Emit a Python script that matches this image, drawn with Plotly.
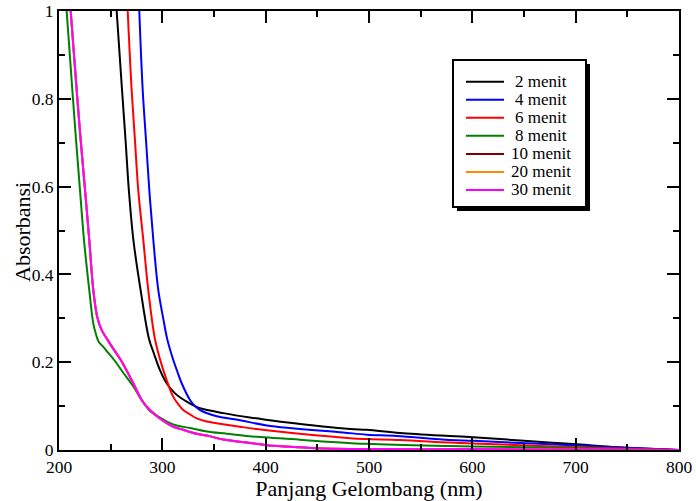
import plotly.graph_objects as go

# Absorbance spectra recorded after different irradiation times
wl_2 = [255.8, 261.0, 264.4, 267.6, 272.0, 279.0, 287.0, 291.5, 297.7, 304.2, 312.3, 323.6,
        331.6, 336.5, 359.0, 384.8, 404.0, 417.0, 481.6, 498.0, 530.0, 578.0, 601.0, 650.0,
        701.0, 749.0, 800.0]
abs_2 = [1.0, 0.82, 0.706, 0.592, 0.478, 0.364, 0.254, 0.222, 0.182, 0.152, 0.129, 0.110,
         0.100, 0.095, 0.084, 0.074, 0.068, 0.064, 0.048, 0.046, 0.039, 0.032, 0.029, 0.021,
         0.013, 0.005, 0.0]

wl_4 = [277.7, 281.0, 284.2, 287.4, 291.3, 296.1, 301.0, 304.8, 310.6, 314.3, 318.7, 326.8,
        331.6, 336.5, 352.6, 375.2, 401.0, 475.0, 497.8, 526.7, 578.0, 601.0, 701.0, 800.0]
abs_4 = [1.0, 0.82, 0.706, 0.592, 0.478, 0.364, 0.298, 0.252, 0.205, 0.180, 0.152, 0.114,
         0.100, 0.091, 0.077, 0.068, 0.056, 0.040, 0.035, 0.032, 0.023, 0.021, 0.010, 0.0]

wl_6 = [266.5, 270.3, 273.5, 276.7, 281.6, 286.4, 292.6, 297.7, 304.2, 310.6, 315.5, 320.3,
        326.8, 333.3, 342.9, 352.6, 375.0, 401.0, 481.6, 498.0, 530.0, 578.0, 601.0, 701.0,
        800.0]
abs_6 = [1.0, 0.82, 0.706, 0.592, 0.478, 0.364, 0.256, 0.207, 0.159, 0.121, 0.104, 0.091,
         0.081, 0.072, 0.065, 0.061, 0.053, 0.045, 0.027, 0.025, 0.023, 0.017, 0.015, 0.006,
         0.0]

wl_8 = [207.4, 212.9, 216.5, 220.3, 224.2, 229.3, 233.2, 236.0, 238.5, 242.9, 246.0, 253.4,
        262.2, 271.0, 280.0, 288.0, 297.7, 305.8, 313.9, 326.8, 343.0, 362.3, 391.3, 417.0,
        497.8, 578.0, 601.0, 701.0, 800.0]
abs_8 = [1.0, 0.82, 0.706, 0.592, 0.478, 0.364, 0.288, 0.262, 0.246, 0.235, 0.226, 0.205,
         0.176, 0.148, 0.114, 0.089, 0.074, 0.063, 0.056, 0.050, 0.042, 0.037, 0.030, 0.026,
         0.014, 0.009, 0.008, 0.004, 0.0]

wl_10 = [211.3, 217.1, 221.0, 225.2, 229.3, 233.2, 237.0, 241.3, 246.2, 251.0, 259.8, 266.3,
         272.7, 280.0, 288.0, 300.9, 310.6, 320.3, 333.3, 343.0, 359.0, 385.0, 401.0, 433.0,
         449.0, 497.8, 600.0, 700.0, 800.0]
abs_10 = [1.0, 0.82, 0.706, 0.592, 0.478, 0.364, 0.303, 0.273, 0.254, 0.236, 0.205, 0.177,
          0.148, 0.114, 0.091, 0.066, 0.053, 0.046, 0.037, 0.033, 0.024, 0.016, 0.011, 0.006,
          0.004, 0.002, 0.002, 0.001, 0.0]

wl_20 = [211.3, 217.1, 221.0, 225.2, 229.3, 233.2, 237.0, 241.3, 246.2, 251.0, 259.8, 266.3,
         272.7, 280.0, 288.0, 300.9, 310.6, 320.3, 333.3, 343.0, 359.0, 385.0, 401.0, 433.0,
         449.0, 497.8, 600.0, 700.0, 800.0]
abs_20 = [1.0, 0.82, 0.706, 0.592, 0.478, 0.364, 0.303, 0.273, 0.254, 0.236, 0.205, 0.177,
          0.148, 0.114, 0.091, 0.066, 0.053, 0.046, 0.037, 0.033, 0.024, 0.016, 0.011, 0.006,
          0.004, 0.002, 0.002, 0.001, 0.0]

wl_30 = [211.3, 217.1, 221.0, 225.2, 229.3, 233.2, 237.0, 241.3, 246.2, 251.0, 259.8, 266.3,
         272.7, 280.0, 288.0, 300.9, 310.6, 320.3, 333.3, 343.0, 359.0, 385.0, 401.0, 433.0,
         449.0, 497.8, 600.0, 700.0, 800.0]
abs_30 = [1.0, 0.82, 0.706, 0.592, 0.478, 0.364, 0.303, 0.273, 0.254, 0.236, 0.205, 0.177,
          0.148, 0.114, 0.091, 0.066, 0.053, 0.046, 0.037, 0.033, 0.024, 0.016, 0.011, 0.006,
          0.004, 0.002, 0.002, 0.001, 0.0]

series_names = ["2 menit", "4 menit", "6 menit", "8 menit", "10 menit", "20 menit", "30 menit"]
series_colors = ["#000000", "#0000ff", "#ff0000", "#008000", "#800000", "#ff8c00", "#ff00ff"]
series_x = [wl_2, wl_4, wl_6, wl_8, wl_10, wl_20, wl_30]
series_y = [abs_2, abs_4, abs_6, abs_8, abs_10, abs_20, abs_30]

# Axis ranges and tick labels
x_range = [200, 800]
y_range = [0, 1]
x_major = [200, 300, 400, 500, 600, 700, 800]
y_major = [0, 0.2, 0.4, 0.6, 0.8, 1.0]
x_labels = ["200", "300", "400", "500", "600", "700", "800"]
y_labels = ["0", "0.2", "0.4", "0.6", "0.8", "1"]

FONT = "Liberation Serif"

# Plot-area geometry in pixels
W, H = 696, 501
ML, MR, MT, MB = 59, 17, 11, 51
PW, PH = W - ML - MR, H - MT - MB


def px_x(p):
    return (p - ML) / PW


def px_y(p):
    return 1 - (p - MT) / PH


fig = go.Figure()
for name, color, xs, ys in zip(series_names, series_colors, series_x, series_y):
    fig.add_trace(go.Scatter(
        x=xs, y=ys, name=name, mode="lines", showlegend=False,
        line=dict(color=color, width=2, shape="spline", smoothing=1.0),
    ))

frame = dict(showline=True, linecolor="#000000", linewidth=2, mirror="ticks",
             ticks="inside", ticklen=12, tickwidth=2, tickcolor="#000000",
             showgrid=False, zeroline=False, automargin=False, layer="above traces",
             tickfont=dict(family=FONT, size=17.5, color="black"))
minor_ticks = dict(ticks="inside", ticklen=6, tickwidth=2, tickcolor="#000000", showgrid=False)

fig.update_layout(
    template="none",
    xaxis=dict(
        range=x_range, tickmode="array", tickvals=x_major, ticktext=x_labels,
        minor=dict(tickmode="linear", tick0=200, dtick=50, **minor_ticks),
        title=dict(text="Panjang Gelombang (nm)",
                   font=dict(family=FONT, size=22, color="black"), standoff=6),
        **frame,
    ),
    yaxis=dict(
        range=y_range, tickmode="array", tickvals=y_major, ticktext=y_labels,
        minor=dict(tickmode="linear", tick0=0, dtick=0.1, **minor_ticks),
        **frame,
    ),
)

# Vertical axis title
fig.add_annotation(xref="paper", yref="paper", x=px_x(22), y=px_y(232),
                   text="Absorbansi", textangle=-90, showarrow=False,
                   xanchor="center", yanchor="middle",
                   font=dict(family=FONT, size=22, color="black"))

# Boxed legend with drop shadow
box_l, box_r, box_t, box_b = 453, 586, 60, 207
shadow = 4
fig.add_shape(type="rect", xref="paper", yref="paper",
              x0=px_x(box_l + shadow), x1=px_x(box_r + shadow),
              y0=px_y(box_b + shadow), y1=px_y(box_t + shadow),
              fillcolor="black", line=dict(width=0), layer="above")
fig.add_shape(type="rect", xref="paper", yref="paper",
              x0=px_x(box_l), x1=px_x(box_r), y0=px_y(box_b), y1=px_y(box_t),
              fillcolor="white", line=dict(color="black", width=2), layer="above")

row0, row_step = 81.7, 18.05
for i, (name, color) in enumerate(zip(series_names, series_colors)):
    ry = row0 + i * row_step
    fig.add_shape(type="line", xref="paper", yref="paper",
                  x0=px_x(466), x1=px_x(504), y0=px_y(ry), y1=px_y(ry),
                  line=dict(color=color, width=2), layer="above")
    fig.add_annotation(xref="paper", yref="paper", x=px_x(541), y=px_y(ry),
                       text=name, showarrow=False, xanchor="center", yanchor="middle",
                       font=dict(family=FONT, size=17, color="black"))

fig.update_layout(
    width=W, height=H,
    margin=dict(l=ML, r=MR, t=MT, b=MB),
    paper_bgcolor="white", plot_bgcolor="white",
    font=dict(family=FONT, color="black"),
    showlegend=False,
)

fig.write_html("out.html")
